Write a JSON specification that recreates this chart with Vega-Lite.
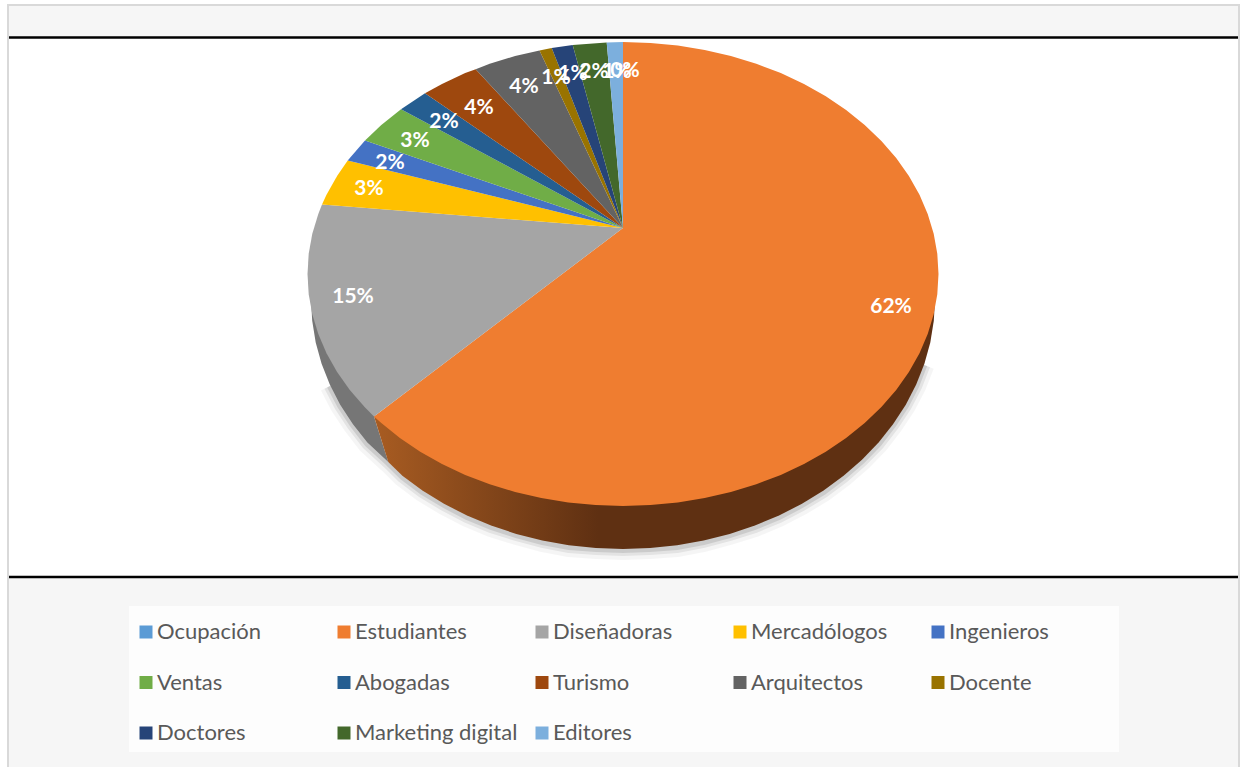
{
"$schema":"https://vega.github.io/schema/vega-lite/v6.json",
"width":1241,"height":767,"padding":0,"autosize":"none","background":"white",
"config":{"view":{"stroke":null}},
"datasets":{
"top":[
{"s":"Estudiantes","i":0,"x":623,"y":228},{"s":"Estudiantes","i":1,"x":623,"y":42},{"s":"Estudiantes","i":2,"x":650.5,"y":42.9},{"s":"Estudiantes","i":3,"x":677.8,"y":45.5},{"s":"Estudiantes","i":4,"x":704.7,"y":49.9},{"s":"Estudiantes","i":5,"x":730.9,"y":56},{"s":"Estudiantes","i":6,"x":756.3,"y":63.7},{"s":"Estudiantes","i":7,"x":780.8,"y":73.1},{"s":"Estudiantes","i":8,"x":804,"y":84},{"s":"Estudiantes","i":9,"x":825.8,"y":96.3},{"s":"Estudiantes","i":10,"x":846.1,"y":110},{"s":"Estudiantes","i":11,"x":864.7,"y":124.9},{"s":"Estudiantes","i":12,"x":881.4,"y":140.9},{"s":"Estudiantes","i":13,"x":896.2,"y":158},{"s":"Estudiantes","i":14,"x":908.9,"y":176},{"s":"Estudiantes","i":15,"x":919.5,"y":194.7},{"s":"Estudiantes","i":16,"x":927.7,"y":214},{"s":"Estudiantes","i":17,"x":933.7,"y":233.7},{"s":"Estudiantes","i":18,"x":937.3,"y":253.8},{"s":"Estudiantes","i":19,"x":938.5,"y":274},{"s":"Estudiantes","i":20,"x":937.3,"y":294.2},{"s":"Estudiantes","i":21,"x":933.7,"y":314.3},{"s":"Estudiantes","i":22,"x":927.7,"y":334},{"s":"Estudiantes","i":23,"x":919.5,"y":353.3},{"s":"Estudiantes","i":24,"x":908.9,"y":372},{"s":"Estudiantes","i":25,"x":896.2,"y":390},{"s":"Estudiantes","i":26,"x":881.4,"y":407.1},{"s":"Estudiantes","i":27,"x":864.7,"y":423.1},{"s":"Estudiantes","i":28,"x":846.1,"y":438},{"s":"Estudiantes","i":29,"x":825.8,"y":451.7},{"s":"Estudiantes","i":30,"x":804,"y":464},{"s":"Estudiantes","i":31,"x":780.8,"y":474.9},{"s":"Estudiantes","i":32,"x":756.3,"y":484.3},{"s":"Estudiantes","i":33,"x":730.9,"y":492},{"s":"Estudiantes","i":34,"x":704.7,"y":498.1},{"s":"Estudiantes","i":35,"x":677.8,"y":502.5},{"s":"Estudiantes","i":36,"x":650.5,"y":505.1},{"s":"Estudiantes","i":37,"x":623,"y":506},{"s":"Estudiantes","i":38,"x":595.5,"y":505.1},{"s":"Estudiantes","i":39,"x":568.2,"y":502.5},{"s":"Estudiantes","i":40,"x":541.3,"y":498.1},{"s":"Estudiantes","i":41,"x":515.1,"y":492},{"s":"Estudiantes","i":42,"x":489.7,"y":484.3},{"s":"Estudiantes","i":43,"x":465.2,"y":474.9},{"s":"Estudiantes","i":44,"x":442,"y":464},{"s":"Estudiantes","i":45,"x":420.2,"y":451.7},{"s":"Estudiantes","i":46,"x":399.9,"y":438},{"s":"Estudiantes","i":47,"x":381.3,"y":423.1},{"s":"Estudiantes","i":48,"x":374,"y":416.5},
{"s":"Diseñadoras","i":0,"x":623,"y":228},{"s":"Diseñadoras","i":1,"x":374,"y":416.5},{"s":"Diseñadoras","i":2,"x":364.6,"y":407.1},{"s":"Diseñadoras","i":3,"x":349.8,"y":390},{"s":"Diseñadoras","i":4,"x":337.1,"y":372},{"s":"Diseñadoras","i":5,"x":326.5,"y":353.3},{"s":"Diseñadoras","i":6,"x":318.3,"y":334},{"s":"Diseñadoras","i":7,"x":312.3,"y":314.3},{"s":"Diseñadoras","i":8,"x":308.7,"y":294.2},{"s":"Diseñadoras","i":9,"x":307.5,"y":274},{"s":"Diseñadoras","i":10,"x":308.7,"y":253.8},{"s":"Diseñadoras","i":11,"x":312.3,"y":233.7},{"s":"Diseñadoras","i":12,"x":318.3,"y":214},{"s":"Diseñadoras","i":13,"x":322,"y":204.4},
{"s":"Mercadólogos","i":0,"x":623,"y":228},{"s":"Mercadólogos","i":1,"x":322,"y":204.4},{"s":"Mercadólogos","i":2,"x":326.5,"y":194.7},{"s":"Mercadólogos","i":3,"x":337.1,"y":176},{"s":"Mercadólogos","i":4,"x":347.7,"y":160.5},
{"s":"Ingenieros","i":0,"x":623,"y":228},{"s":"Ingenieros","i":1,"x":347.7,"y":160.5},{"s":"Ingenieros","i":2,"x":365,"y":140.5},
{"s":"Ventas","i":0,"x":623,"y":228},{"s":"Ventas","i":1,"x":365,"y":140.5},{"s":"Ventas","i":2,"x":381.3,"y":124.9},{"s":"Ventas","i":3,"x":401,"y":109.3},
{"s":"Abogadas","i":0,"x":623,"y":228},{"s":"Abogadas","i":1,"x":401,"y":109.3},{"s":"Abogadas","i":2,"x":425,"y":93.3},
{"s":"Turismo","i":0,"x":623,"y":228},{"s":"Turismo","i":1,"x":425,"y":93.3},{"s":"Turismo","i":2,"x":442,"y":84},{"s":"Turismo","i":3,"x":465.2,"y":73.1},{"s":"Turismo","i":4,"x":475.7,"y":69.3},
{"s":"Arquitectos","i":0,"x":623,"y":228},{"s":"Arquitectos","i":1,"x":475.7,"y":69.3},{"s":"Arquitectos","i":2,"x":489.7,"y":63.7},{"s":"Arquitectos","i":3,"x":515.1,"y":56},{"s":"Arquitectos","i":4,"x":539.5,"y":50.5},
{"s":"Docente","i":0,"x":623,"y":228},{"s":"Docente","i":1,"x":539.5,"y":50.5},{"s":"Docente","i":2,"x":551.7,"y":48},
{"s":"Doctores","i":0,"x":623,"y":228},{"s":"Doctores","i":1,"x":551.7,"y":48},{"s":"Doctores","i":2,"x":572.7,"y":45},
{"s":"Marketing digital","i":0,"x":623,"y":228},{"s":"Marketing digital","i":1,"x":572.7,"y":45},{"s":"Marketing digital","i":2,"x":606.7,"y":42.5},
{"s":"Editores","i":0,"x":623,"y":228},{"s":"Editores","i":1,"x":606.7,"y":42.5},{"s":"Editores","i":2,"x":623,"y":42}
],
"wallOrange":[
{"i":0,"x":623,"y":274},{"i":1,"x":935,"y":299},{"i":2,"x":933.8,"y":320.8},{"i":3,"x":930.3,"y":342.4},{"i":4,"x":924.4,"y":363.7},{"i":5,"x":916.2,"y":384.5},{"i":6,"x":905.8,"y":404.7},{"i":7,"x":893.2,"y":424},{"i":8,"x":878.6,"y":442.4},{"i":9,"x":862,"y":459.7},{"i":10,"x":843.6,"y":475.8},{"i":11,"x":823.6,"y":490.5},{"i":12,"x":802,"y":503.8},{"i":13,"x":779,"y":515.5},{"i":14,"x":754.9,"y":525.6},{"i":15,"x":729.7,"y":533.9},{"i":16,"x":703.7,"y":540.5},{"i":17,"x":677.2,"y":545.2},{"i":18,"x":650.2,"y":548},{"i":19,"x":623,"y":549},{"i":20,"x":595.8,"y":548},{"i":21,"x":568.8,"y":545.2},{"i":22,"x":542.3,"y":540.5},{"i":23,"x":516.3,"y":533.9},{"i":24,"x":491.1,"y":525.6},{"i":25,"x":467,"y":515.5},{"i":26,"x":444,"y":503.8},{"i":27,"x":422.4,"y":490.5},{"i":28,"x":402.4,"y":475.8},{"i":29,"x":388.3,"y":462},{"i":30,"x":374,"y":416.5}
],
"wallGrey":[
{"i":0,"x":400,"y":350},{"i":1,"x":374,"y":416.5},{"i":2,"x":388.3,"y":462},{"i":3,"x":367.4,"y":442.4},{"i":4,"x":352.8,"y":424},{"i":5,"x":340.2,"y":404.7},{"i":6,"x":329.8,"y":384.5},{"i":7,"x":321.6,"y":363.7},{"i":8,"x":315.7,"y":342.4},{"i":9,"x":312.2,"y":320.8},{"i":10,"x":311,"y":299}
],
"rim":[
{"i":2,"x":924.4,"y":365},{"i":3,"x":916.2,"y":386},{"i":4,"x":905.8,"y":406},{"i":5,"x":893.2,"y":425},{"i":6,"x":878.6,"y":444},{"i":7,"x":862,"y":461},{"i":8,"x":843.6,"y":477},{"i":9,"x":823.6,"y":492},{"i":10,"x":802,"y":505},{"i":11,"x":779,"y":517},{"i":12,"x":754.9,"y":527},{"i":13,"x":729.7,"y":535},{"i":14,"x":703.7,"y":542},{"i":15,"x":677.2,"y":547},{"i":16,"x":650.2,"y":549},{"i":17,"x":623,"y":550},{"i":18,"x":595.8,"y":549},{"i":19,"x":568.8,"y":547},{"i":20,"x":542.3,"y":542},{"i":21,"x":516.3,"y":535},{"i":22,"x":491.1,"y":527},{"i":23,"x":467,"y":517},{"i":24,"x":444,"y":505},{"i":25,"x":422.4,"y":492},{"i":26,"x":402.4,"y":477},{"i":27,"x":388.3,"y":463},{"i":28,"x":367.4,"y":444},{"i":29,"x":352.8,"y":425},{"i":30,"x":340.2,"y":406},{"i":31,"x":329.8,"y":386}
]
},
"encoding":{
"x":{"field":"x","type":"quantitative","axis":null,"scale":{"domain":[0,1241]}},
"y":{"field":"y","type":"quantitative","axis":null,"scale":{"domain":[0,767],"reverse":true}}
},
"layer":[
{"data":{"values":[{"x":8,"x2":1239,"y":5,"y2":780}]},"mark":{"type":"rect","fill":"#f6f6f6","stroke":"#d9d9d9","strokeWidth":2,"clip":true},"encoding":{"x2":{"field":"x2"},"y2":{"field":"y2"}}},
{"data":{"values":[{"x":9,"x2":1238,"y":37,"y2":577}]},"mark":{"type":"rect","fill":"white"},"encoding":{"x2":{"field":"x2"},"y2":{"field":"y2"}}},
{"data":{"values":[{"x":129,"x2":1119,"y":606,"y2":752}]},"mark":{"type":"rect","fill":"#fdfdfd"},"encoding":{"x2":{"field":"x2"},"y2":{"field":"y2"}}},
{"data":{"values":[{"x":9,"x2":1238,"y":37.5},{"x":9,"x2":1238,"y":577}]},"mark":{"type":"rule","stroke":"black","strokeWidth":2.5},"encoding":{"x2":{"field":"x2"}}},
{"data":{"name":"rim"},"mark":{"type":"line","stroke":"#000000","strokeOpacity":0.04,"strokeWidth":20},"encoding":{"order":{"field":"i"}}},
{"data":{"name":"rim"},"mark":{"type":"line","stroke":"#000000","strokeOpacity":0.07,"strokeWidth":12},"encoding":{"order":{"field":"i"}}},
{"data":{"name":"rim"},"mark":{"type":"line","stroke":"#000000","strokeOpacity":0.1,"strokeWidth":6},"encoding":{"order":{"field":"i"}}},
{"data":{"name":"wallGrey"},"mark":{"type":"line","fill":"#767676","strokeWidth":0},"encoding":{"order":{"field":"i"}}},
{"data":{"name":"wallOrange"},"mark":{"type":"line","strokeWidth":0,"fill":{"gradient":"linear","x1":0,"x2":1,"y1":0,"y2":0,"stops":[{"offset":0,"color":"#a85c22"},{"offset":0.4,"color":"#5f3012"},{"offset":1,"color":"#5f3012"}]}},"encoding":{"order":{"field":"i"}}},
{"data":{"name":"top"},"mark":{"type":"line","strokeWidth":0},
"encoding":{"order":{"field":"i"},
"fill":{"field":"s","type":"nominal","sort":null,
"scale":{"domain":["Ocupación","Estudiantes","Diseñadoras","Mercadólogos","Ingenieros","Ventas","Abogadas","Turismo","Arquitectos","Docente","Doctores","Marketing digital","Editores"],
"range":["#5b9bd5","#ef7d30","#a5a5a5","#ffc000","#4472c4","#70ad47","#255e91","#9e480e","#636363","#997300","#264478","#43682b","#7cafdd"]},
"legend":{"title":null,"orient":"none","direction":"horizontal","legendX":135,"legendY":621,"columns":5,"gridAlign":"all","symbolType":"square","symbolSize":169,"symbolStrokeWidth":0,"labelFont":"Lato","labelFontSize":22,"labelColor":"#595959","labelLimit":300,"labelOffset":0,"columnPadding":13,"rowPadding":28.5,"padding":0}}}},
{"data":{"values":[
{"s":"Estudiantes","t":"62%","x":891,"y":307},{"s":"Diseñadoras","t":"15%","x":353,"y":297},{"s":"Mercadólogos","t":"3%","x":369,"y":189},{"s":"Ingenieros","t":"2%","x":390,"y":163},{"s":"Ventas","t":"3%","x":415,"y":141},{"s":"Abogadas","t":"2%","x":444,"y":122},{"s":"Turismo","t":"4%","x":479,"y":108},{"s":"Arquitectos","t":"4%","x":524,"y":87},{"s":"Docente","t":"1%","x":556,"y":78},{"s":"Doctores","t":"1%","x":573,"y":74},{"s":"Marketing digital","t":"2%","x":594,"y":72},{"s":"Editores","t":"1%","x":617,"y":72},{"s":"Ocupación","t":"0%","x":625,"y":71}
]},"mark":{"type":"text","font":"Lato","fontWeight":"bold","fontSize":21,"fill":"white","align":"center","baseline":"middle"},"encoding":{"text":{"field":"t"}}}
]
}
